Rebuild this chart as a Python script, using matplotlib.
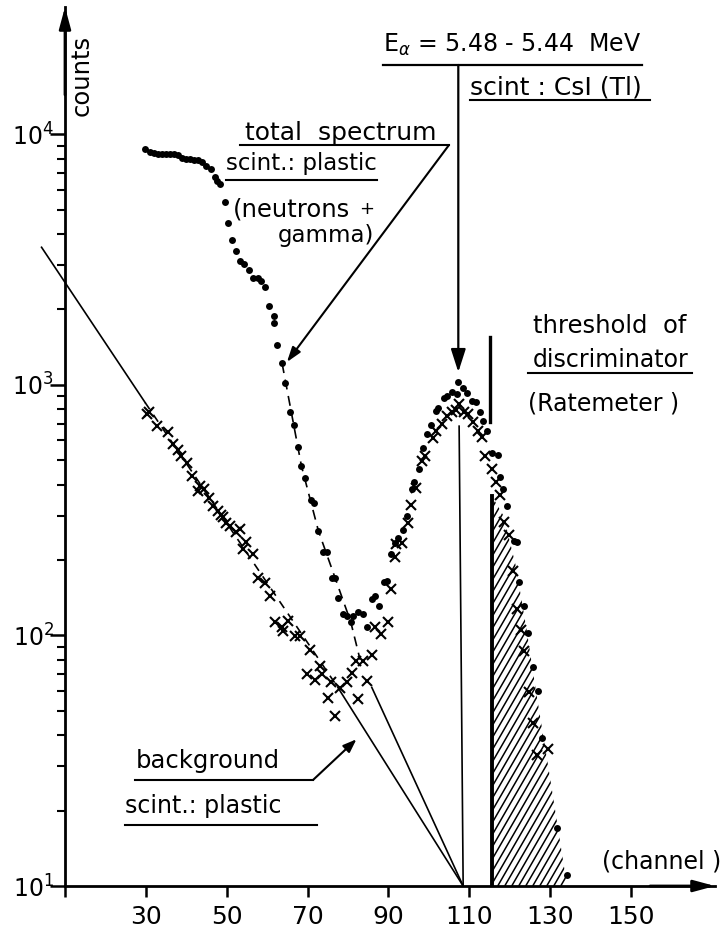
import numpy as np
import matplotlib
matplotlib.use('Agg')
import matplotlib.pyplot as plt
from matplotlib.collections import LineCollection
from matplotlib.patches import Polygon
from matplotlib.lines import Line2D
from matplotlib.transforms import IdentityTransform
from matplotlib.ticker import FixedLocator, NullFormatter, LogFormatterMathtext

plt.rcParams['font.family'] = 'DejaVu Sans'
plt.rcParams['mathtext.fontset'] = 'dejavusans'

W, H = 721, 933

# total spectrum, scint.: plastic (neutrons + gamma)  -> dots
total_ch = [29.8, 31.0, 32.0, 33.0, 34.0, 35.0, 36.0, 37.0, 38.0, 39.0, 40.0, 41.0,
            42.0, 43.0, 44.0, 45.0, 46.0, 47.1, 47.6, 48.3, 49.6, 50.4, 51.2, 52.4,
            53.4, 54.3, 55.6, 56.6, 57.8, 58.5, 59.5, 60.4, 61.7, 61.7, 62.5, 63.7,
            64.4, 65.6, 66.6, 67.7, 68.5, 69.4, 70.8, 71.6, 72.7, 73.9, 74.7, 76.0,
            76.8, 77.6, 78.7, 79.8, 80.7, 81.2, 82.5, 83.8, 84.6, 85.9, 86.7, 87.7,
            88.9, 89.6, 90.6, 91.6, 92.4, 93.5, 94.7, 95.8, 96.4, 97.6, 98.5, 99.5,
            100.5, 101.7, 102.3, 103.8, 104.6, 105.7, 107.0, 107.3, 108.5, 109.4, 110.6, 111.7,
            112.7, 113.5, 114.5, 115.6, 117.0, 117.6, 118.4, 119.3, 121.1, 121.7, 122.4, 123.6,
            124.5, 125.7, 126.9, 127.9, 131.8, 134.1]
total_counts = [8730, 8490, 8400, 8340, 8340, 8340, 8340, 8340, 8300, 8040, 8000, 7950,
                7900, 7880, 7740, 7500, 7300, 6750, 6500, 6320, 5360, 4420, 3780, 3420,
                3130, 3030, 2870, 2680, 2660, 2590, 2460, 2070, 1890, 1770, 1440, 1220,
                1015, 778, 690, 564, 474, 424, 347, 339, 261, 216, 216, 170,
                170, 141, 122, 120, 113, 120, 124, 122, 108, 140, 143, 131,
                164, 165, 212, 233, 245, 264, 300, 384, 408, 461, 562, 636,
                690, 787, 812, 883, 899, 938, 918, 1028, 968, 927, 863, 851,
                776, 718, 655, 534, 524, 427, 384, 327, 238, 236, 164, 131,
                102, 75, 60, 39, 17, 11.1]

# background, scint.: plastic  -> crosses
bg_ch = [30.2, 30.8, 32.8, 35.5, 36.8, 37.9, 38.8, 40.1, 41.3, 42.9, 43.4, 44.4,
         45.7, 46.7, 47.9, 48.7, 49.1, 49.9, 50.8, 52.3, 53.3, 54.1, 54.9, 56.6,
         57.8, 59.5, 60.7, 61.9, 63.6, 64.0, 65.2, 66.9, 68.1, 70.6, 69.8, 71.8,
         73.1, 73.5, 75.1, 75.7, 76.8, 78.0, 79.7, 80.9, 82.1, 82.5, 83.7, 84.8,
         85.9, 86.7, 88.1, 89.8, 90.6, 91.6, 92.0, 93.3, 94.9, 95.5, 96.8, 98.2,
         99.1, 101.1, 101.9, 103.2, 104.4, 105.7, 106.7, 107.5, 108.8, 109.8, 111.0, 112.2,
         113.1, 113.9, 115.6, 116.6, 117.6, 118.7, 119.9, 120.8, 121.7, 122.7, 123.6, 124.8,
         125.7, 126.7, 129.6]
bg_counts = [764, 780, 687, 646, 580, 548, 521, 487, 433, 377, 395, 384,
             355, 329, 313, 302, 296, 282, 274, 259, 265, 221, 235, 211,
             170, 162, 143, 113, 108, 104, 114, 99.5, 99.5, 87.3, 70.0, 66.2,
             75.5, 70.0, 56.5, 65.2, 47.7, 61.9, 65.0, 70.6, 78.9, 55.6, 78.9, 65.9,
             83.2, 108, 101, 113, 153, 205, 231, 233, 282, 331, 387, 497,
             521, 611, 655, 697, 752, 776, 795, 838, 776, 764, 708, 655,
             617, 521, 461, 408, 363, 284, 251, 181, 128, 105, 86.7, 59.4,
             44.9, 33.3, 35.1]

# hand-drawn guide lines of the original
bg_solid_ch, bg_solid_n = [4.2, 29.8], [3540, 851]
bg_dash_ch, bg_dash_n = [29.8, 77.5], [851, 62]
bg_tail_ch, bg_tail_n = [77.5, 108.5], [62, 10]
tot_dash_ch = [63.7, 68.5, 72.7, 76.8, 80.7, 83.0]
tot_dash_n = [1220, 474, 261, 170, 113, 80]
tot_tail_ch, tot_tail_n = [85.9, 108.5], [62, 10]
peak_ch, peak_n = [108.5, 107.5], [10, 684]
thresh_ch, thresh_n = [115.1, 115.1], [710, 1550]

# hatched area above threshold
hatch_ch = [115.6, 115.6, 118.5, 121.5, 124.3, 126.3, 130.0, 134.2]
hatch_n = [10, 360, 300, 190, 103, 63, 27, 10]

xticks = [10, 30, 50, 70, 90, 110, 130, 150]
xtick_labels = ['', '30', '50', '70', '90', '110', '130', '150']


def fxy(x, y):
    return x / W, 1 - y / H


fig = plt.figure(figsize=(W / 100, H / 100), dpi=100)
ax = fig.add_axes([65 / W, 47 / H, 650 / W, 879 / H])
ax.set_yscale('log')
ax.set_xlim(10, 170.8)
ax.set_ylim(10, 32200)

for s in ['top', 'right']:
    ax.spines[s].set_visible(False)
for s in ['left', 'bottom']:
    ax.spines[s].set_linewidth(2)

ax.set_xticks(xticks)
ax.set_xticklabels(xtick_labels)
ax.yaxis.set_major_locator(FixedLocator([10, 100, 1000, 10000]))
ax.yaxis.set_major_formatter(LogFormatterMathtext())
ax.yaxis.set_minor_locator(FixedLocator([k * 10 ** d for d in (1, 2, 3) for k in range(2, 10)]))
ax.yaxis.set_minor_formatter(NullFormatter())
ax.tick_params(axis='y', which='major', length=11, width=1.8, labelsize=17, pad=-3)
ax.tick_params(axis='y', which='minor', length=6, width=1.5)
ax.tick_params(axis='x', which='major', length=8, width=1.8, labelsize=18, pad=6)

# axis arrows
arr = dict(arrowstyle='-|>,head_length=1.3,head_width=0.35', color='k', lw=2,
           shrinkA=0, shrinkB=0, mutation_scale=10)
ax.annotate('', xy=(1, 0), xytext=(0.9, 0), xycoords='axes fraction', arrowprops=arr)
ax.annotate('', xy=(0, 1), xytext=(0, 0.9), xycoords='axes fraction', arrowprops=arr)

# data
ax.plot(total_ch, total_counts, 'o', ms=5, color='k', mew=0, clip_on=False)
ax.plot(bg_ch, bg_counts, 'x', ms=7.5, mew=1.5, color='k', clip_on=False)

# guide lines
ax.plot(bg_solid_ch, bg_solid_n, color='k', lw=1.2, clip_on=False)
ax.plot(bg_dash_ch, bg_dash_n, color='k', lw=1.2, dashes=(5, 4))
ax.plot(bg_tail_ch, bg_tail_n, color='k', lw=1.2)
ax.plot(tot_dash_ch, tot_dash_n, color='k', lw=1.2, dashes=(6, 4))
ax.plot(tot_tail_ch, tot_tail_n, color='k', lw=1.2)
ax.plot(peak_ch, peak_n, color='k', lw=1.2)
ax.plot(thresh_ch, thresh_n, color='k', lw=2.4)

# hatched region
verts = list(zip(hatch_ch, hatch_n))
clip = Polygon(verts, closed=True, transform=ax.transData, fill=False, edgecolor='none')
ax.add_patch(clip)
ax.plot(hatch_ch[:2], hatch_n[:2], color='k', lw=2.8)
x0, y0 = ax.transData.transform((hatch_ch[0], 10))
x1, y1 = ax.transData.transform((hatch_ch[-1], max(hatch_n)))
slope = np.tan(np.radians(60))
span = (y1 - y0) / slope
segs = [[(xs, y0), (xs + span, y1)] for xs in np.arange(x0 - span, x1 + 7, 7.0)]
lc = LineCollection(segs, colors='k', linewidths=1.1, transform=IdentityTransform())
lc.set_clip_path(clip)
fig.add_artist(lc)


def underline(x1, x2, y, lw=1.5):
    fig.add_artist(Line2D([x1 / W, x2 / W], [1 - y / H] * 2, transform=fig.transFigure,
                          color='k', lw=lw))


def label(x, y, s, size=17, **kw):
    fig.text(x / W, 1 - y / H, s, ha='left', va='baseline', fontsize=size, **kw)


fig.text(82 / W, 1 - 75 / H, 'counts', rotation=90, ha='center', va='center', fontsize=17.5)
label(602, 868, '(channel )', size=17)

# E alpha marker
label(383, 52, r'E$_\alpha$ = 5.48 - 5.44  MeV', size=17)
underline(383, 642, 65, lw=1.6)
ax.annotate('', xy=(107.3, 1124), xycoords='data', xytext=fxy(458.3, 65),
            textcoords='figure fraction',
            arrowprops=dict(arrowstyle='-|>,head_length=1.4,head_width=0.45', color='k',
                            lw=1.6, shrinkA=0, shrinkB=0, mutation_scale=10))
label(470, 95, 'scint : CsI (Tl)', size=18)
underline(470, 650, 100)

# total spectrum
label(245, 140, 'total  spectrum', size=18)
underline(240, 449, 145)
ax.annotate('', xy=(64.9, 1233), xycoords='data', xytext=fxy(449, 145),
            textcoords='figure fraction',
            arrowprops=dict(arrowstyle='-|>,head_length=0.9,head_width=0.3', color='k',
                            lw=1.5, shrinkA=0, shrinkB=0, mutation_scale=10))
label(226, 170, 'scint.: plastic', size=16.5)
underline(226, 377, 180)
label(233, 217, '(neutrons', size=17.5)
label(359, 214, '+', size=13)
label(278, 242, 'gamma)', size=16.5)

# threshold
label(533, 333, 'threshold  of', size=17.5)
label(533, 367, 'discriminator', size=17)
underline(528, 692, 373)
label(528, 410, '(Ratemeter )', size=17)

# background
label(136, 768, 'background', size=17.5)
fig.add_artist(Line2D([135 / W, 313 / W], [1 - 780 / H] * 2, transform=fig.transFigure,
                      color='k', lw=1.5))
ax.annotate('', xy=(82.1, 38.5), xycoords='data', xytext=fxy(313, 780),
            textcoords='figure fraction',
            arrowprops=dict(arrowstyle='-|>,head_length=0.8,head_width=0.3', color='k',
                            lw=1.5, shrinkA=0, shrinkB=0, mutation_scale=10))
label(125, 813, 'scint.: plastic', size=17)
underline(125, 317, 825)

fig.savefig('out.png', dpi=100)
